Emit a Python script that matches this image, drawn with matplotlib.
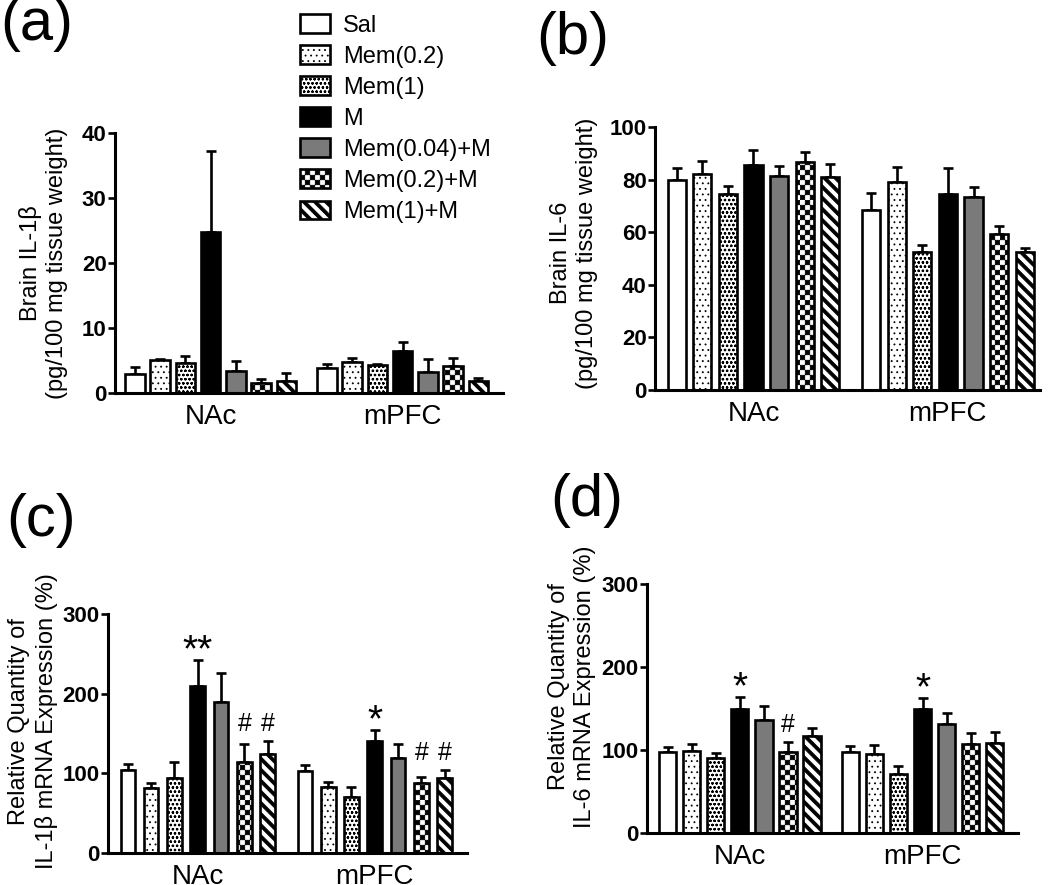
import numpy as np
import matplotlib
matplotlib.use('Agg')
import matplotlib.pyplot as plt
import matplotlib.hatch as mhatch
from matplotlib.path import Path

plt.rcParams['font.family'] = ['Liberation Sans', 'DejaVu Sans']
plt.rcParams['hatch.linewidth'] = 0.6
plt.rcParams['hatch.color'] = 'black'

groups = ['NAc', 'mPFC']
treatments = ['Sal', 'Mem(0.2)', 'Mem(1)', 'M', 'Mem(0.04)+M', 'Mem(0.2)+M', 'Mem(1)+M']

# (a) brain IL-1beta, pg/100 mg tissue weight
a_nac = [2.9, 5.1, 4.6, 24.8, 3.4, 1.6, 1.9]
a_nac_sem = [1.1, 0.2, 1.1, 12.5, 1.6, 0.6, 1.2]
a_pfc = [3.8, 4.8, 4.3, 6.4, 3.3, 4.1, 1.8]
a_pfc_sem = [0.6, 0.6, 0.15, 1.4, 2.0, 1.3, 0.5]

# (b) brain IL-6
b_nac = [79.7, 82.2, 74.4, 85.4, 81.2, 86.8, 81.0]
b_nac_sem = [4.9, 4.7, 3.0, 6.0, 3.8, 3.6, 4.8]
b_pfc = [68.3, 78.9, 52.5, 74.7, 73.4, 59.3, 52.3]
b_pfc_sem = [6.6, 5.9, 2.5, 9.7, 3.8, 2.9, 1.6]

# (c) IL-1beta mRNA (%)
c_nac = [104.5, 81, 93.6, 209, 189, 113.8, 124.7]
c_nac_sem = [7.5, 7, 20.9, 33, 37, 23.2, 16.3]
c_pfc = [103, 83, 70, 140, 119, 88, 93.6]
c_pfc_sem = [8, 5.5, 13, 14, 18, 7.5, 10.9]
c_marks = [{3: '**', 5: '#', 6: '#'}, {3: '*', 5: '#', 6: '#'}]

# (d) IL-6 mRNA (%)
d_nac = [97, 98.6, 89.8, 149.6, 136, 97.9, 117]
d_nac_sem = [7, 8.8, 6.8, 14.4, 17, 12.1, 10]
d_pfc = [97, 95.5, 71.4, 149.6, 131.6, 107.4, 108]
d_pfc_sem = [8, 10.5, 9.6, 13.4, 13.4, 12.6, 14]
d_marks = [{3: '*', 5: '#'}, {3: '*'}]

faces = ['white', 'white', 'white', 'black', '#7a7a7a', 'white', 'white']
hatches = [None, '...', 'oooo', None, None, 'O', '*']


# custom hatches: checkerboard ('O') and thick back-slash stripes ('*')
class CheckerHatch(mhatch.HatchPatternBase):
    def __init__(self, hatch, density):
        self.n = int(hatch.count('O') * density * 10 / 3)
        self.n -= self.n % 2
        self.num_vertices = 5 * (self.n * self.n // 2)

    def set_vertices_and_codes(self, vertices, codes):
        s = 1.0 / self.n
        unit = np.array([[0.06, 0.06], [0.94, 0.06], [0.94, 0.94], [0.06, 0.94], [0.06, 0.06]])
        cells = [(i, j) for i in range(self.n) for j in range(self.n) if (i + j) % 2 == 0]
        for k, (i, j) in enumerate(cells):
            vertices[5 * k:5 * k + 5] = (unit + [i, j]) * s
            codes[5 * k:5 * k + 5] = [Path.MOVETO, Path.LINETO, Path.LINETO,
                                      Path.LINETO, Path.CLOSEPOLY]


class StripeHatch(mhatch.HatchPatternBase):
    def __init__(self, hatch, density):
        self.m = int(hatch.count('*') * density * 1.5)
        self.num_vertices = 5 * (2 * self.m + 2) if self.m else 0

    def set_vertices_and_codes(self, vertices, codes):
        w = 0.38 / self.m
        for k, c in enumerate(np.arange(-1, 2 * self.m + 1) / self.m):
            vertices[5 * k:5 * k + 5] = [[0, c], [1, c - 1], [1, c - 1 + w], [0, c + w], [0, c]]
            codes[5 * k:5 * k + 5] = [Path.MOVETO, Path.LINETO, Path.LINETO,
                                      Path.LINETO, Path.CLOSEPOLY]


mhatch._hatch_types = [h for h in mhatch._hatch_types
                       if h not in (mhatch.LargeCircles, mhatch.Stars)] + [CheckerHatch, StripeHatch]

GAP = 7.6
LW = 1.9


def draw_panel(ax, data, width, ymax, ystep, xlim, ylabel, label_xy, marks=None):
    handles = None
    for g, (vals, sems) in enumerate(data):
        x = g * GAP + np.arange(len(vals))
        bars = ax.bar(x, vals, width, color=faces, edgecolor='black', linewidth=LW, zorder=2)
        for b, h in zip(bars, hatches):
            if h:
                b.set_hatch(h)
        ax.errorbar(x, vals, yerr=[np.zeros(len(vals)), sems], fmt='none', ecolor='black',
                    elinewidth=LW, capsize=3.8, capthick=LW, zorder=1)
        if handles is None:
            handles = list(bars)
        if marks:
            tops = np.array(vals) + np.array(sems)
            for i, sym in marks[g].items():
                same = [j for j, s in marks[g].items() if s == sym]
                y = max(tops[j] for j in same)
                if sym == '#':
                    ax.annotate(sym, (x[i], y), xytext=(0, 7), textcoords='offset points',
                                ha='center', va='baseline', fontsize=18)
                else:
                    ax.annotate(sym, (x[i], y), xytext=(0, -1), textcoords='offset points',
                                ha='center', va='baseline', fontsize=28)
    ax.set_ylim(0, ymax)
    ax.set_xlim(*xlim)
    ax.set_yticks(np.arange(0, ymax + 0.1, ystep))
    ax.set_xticks([3, GAP + 3])
    ax.set_xticklabels(groups, fontsize=20)
    ax.tick_params(axis='x', length=0, pad=8)
    ax.tick_params(axis='y', length=5, width=LW, pad=1, labelsize=16)
    for t in ax.get_yticklabels():
        t.set_fontweight('bold')
    for s in ['top', 'right']:
        ax.spines[s].set_visible(False)
    for s in ['left', 'bottom']:
        ax.spines[s].set_linewidth(2.2)
    ax.set_ylabel(ylabel, fontsize=17, va='center', linespacing=1.25)
    ax.yaxis.set_label_coords(*label_xy)
    return handles


fig = plt.figure(figsize=(10.5, 8.85), dpi=100)
ax_a = fig.add_axes([0.1095, 0.5559, 0.3695, 0.2938])
ax_b = fig.add_axes([0.6238, 0.5593, 0.3667, 0.2972])
ax_c = fig.add_axes([0.1029, 0.0362, 0.3419, 0.2701])
ax_d = fig.add_axes([0.6162, 0.0588, 0.3533, 0.2814])

handles = draw_panel(ax_a, [(a_nac, a_nac_sem), (a_pfc, a_pfc_sem)], 0.77, 40, 10,
                     (-0.79, 14.57), 'Brain IL-1\u03b2\n(pg/100 mg tissue weight)', (-0.185, 0.5))
draw_panel(ax_b, [(b_nac, b_nac_sem), (b_pfc, b_pfc_sem)], 0.71, 100, 20,
           (-0.85, 14.2), 'Brain IL-6\n(pg/100 mg tissue weight)', (-0.21, 0.52))
draw_panel(ax_c, [(c_nac, c_nac_sem), (c_pfc, c_pfc_sem)], 0.63, 300, 100,
           (-0.85, 14.56), 'Relative Quantity of\nIL-1\u03b2 mRNA Expression (%)', (-0.209, 0.55),
           marks=c_marks)
draw_panel(ax_d, [(d_nac, d_nac_sem), (d_pfc, d_pfc_sem)], 0.72, 300, 100,
           (-0.86, 14.57), 'Relative Quantity of\nIL-6 mRNA Expression (%)', (-0.202, 0.586),
           marks=d_marks)

fig.legend(handles=handles, labels=treatments, loc='upper left',
           bbox_to_anchor=(300 / 1050, 1 - 14 / 885), frameon=False, fontsize=17,
           handlelength=1.27, handleheight=0.85, handletextpad=0.55, labelspacing=0.36,
           borderpad=0, borderaxespad=0)

for letter, x, y in [('(a)', 0, 24), ('(b)', 536, 39), ('(c)', 6, 520), ('(d)', 550, 500)]:
    fig.text(x / 1050, 1 - y / 885, letter, fontsize=43, ha='left', va='center')

fig.savefig('out.png', dpi=100)
